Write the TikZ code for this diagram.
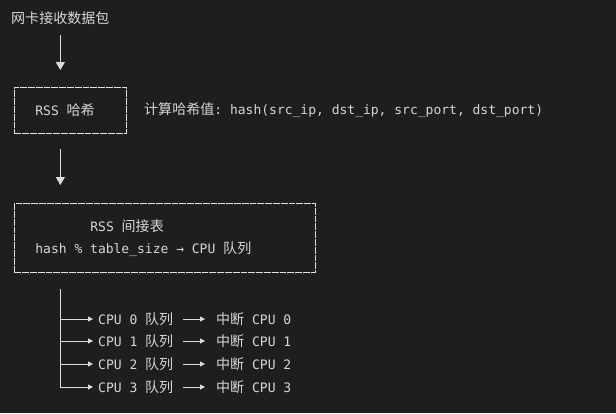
\documentclass[tikz,border=0pt]{standalone}
\usepackage{fontspec}
\setmonofont{DejaVu Sans Mono}
\newfontfamily\cjk{Noto Sans CJK SC}[Scale=1.08]
\usetikzlibrary{arrows.meta}
\definecolor{termbg}{RGB}{30,30,30}
\definecolor{termfg}{RGB}{214,214,214}
\newcommand{\zh}[1]{{\cjk #1}}

\begin{document}
\begin{tikzpicture}[x=1pt,y=-1pt,
	every node/.style={text=termfg,font=\fontsize{13}{22}\selectfont\ttfamily,inner sep=0pt},
	ln/.style={draw=termfg!85,line width=0.9pt},
	tip/.style={ln,-{Triangle[length=5pt,width=5pt]}},
	down/.style={ln,-{Triangle[length=8pt,width=9pt]}},
	tbox/.style={draw=termfg!75,line width=0.8pt,dash pattern=on 6.8pt off 1pt,anchor=north west,
		align=flush left,inner xsep=21pt,text width=#1}]
	\fill[termbg] (0,0) rectangle (616,413);
	\useasboundingbox (0,0) rectangle (616,413);

	\node[anchor=west] (src) at (11,18) {\zh{网卡接收数据包}};
	\node[tbox=70pt,minimum height=46pt] (hashbox) at (14,87) {RSS \zh{哈希}};
	\node[anchor=west] (note) at (144,110) {\zh{计算哈希值}: hash(src\_ip, dst\_ip, src\_port, dst\_port)};
	\node[tbox=259pt,minimum height=69pt] (tablebox) at (14,203)
		{\hspace*{55pt}RSS \zh{间接表}\\hash \% table\_size → CPU \zh{队列}};

	\foreach \i/\y in {0/319,1/341,2/364,3/387}
	{
		\node[anchor=west] (q\i) at (98,\y) {CPU \i\ \zh{队列}};
		\node[anchor=west] (irq\i) at (216,\y) {\zh{中断} CPU \i};
		\draw[tip,shorten >=5pt] (src.south |- q\i.west) -- (q\i.west);
		\draw[tip,shorten <=10pt,shorten >=11pt] (q\i.east) -- (irq\i.west);
	}

	\draw[down,shorten <=10pt,shorten >=17pt] (src.south) -- (src.south |- hashbox.north);
	\draw[down,shorten <=15pt,shorten >=18pt] (src.south |- hashbox.south) -- (src.south |- tablebox.north);
	\draw[ln,shorten <=16pt] (src.south |- tablebox.south) -- (src.south |- q3.west);
\end{tikzpicture}
\end{document}
